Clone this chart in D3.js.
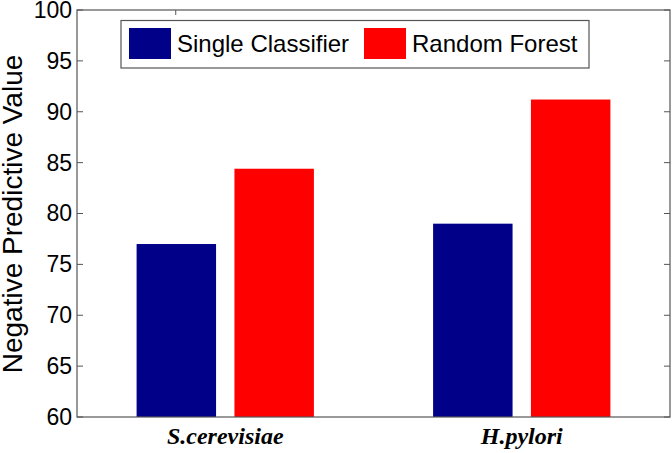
<!DOCTYPE html>
<html><head><meta charset="utf-8">
<script src="https://cdn.jsdelivr.net/npm/d3@7"></script>
<style>body{margin:0;background:#fff;} svg{display:block;}</style>
</head><body>
<script>
const categories = ["S.cerevisiae", "H.pylori"];
const seriesNames = ["Single Classifier", "Random Forest"];
const singleClassifier = [77.0, 79.0];
const randomForest = [84.4, 91.2];
const yTicks = [60, 65, 70, 75, 80, 85, 90, 95, 100];
const colors = ["#000088", "#ff0000"];

const W = 672, H = 453;
const m = {left: 77, right: 2, top: 10, bottom: 36};
const svg = d3.select("body").append("svg").attr("width", W).attr("height", H);
const iw = W - m.left - m.right, ih = H - m.top - m.bottom;
const g = svg.append("g").attr("transform", `translate(${m.left},${m.top})`);

const x = d3.scaleLinear().domain([0.5, 2.5]).range([0, iw]);
const y = d3.scaleLinear().domain([60, 100]).range([ih, 0]);
const barW = 0.268, offset = 0.165;

const series = [singleClassifier, randomForest];
series.forEach((vals, si) => {
  g.selectAll(null).data(vals).enter().append("rect")
    .attr("x", (d, i) => x(i + 1 + (si === 0 ? -offset : offset) - barW / 2))
    .attr("width", x(barW) - x(0))
    .attr("y", d => y(d))
    .attr("height", d => y(60) - y(d))
    .attr("fill", colors[si]);
});

const axisColor = "#555";
// frame
g.append("rect").attr("x", 0).attr("y", 0).attr("width", iw).attr("height", ih)
  .attr("fill", "none").attr("stroke", axisColor).attr("stroke-width", 1.2);

// y axis
const yAxis = d3.axisLeft(y).tickValues(yTicks).tickSize(0).tickPadding(5);
const ya = g.append("g").call(yAxis);
ya.select(".domain").remove();
ya.selectAll("text").attr("font-family", "Liberation Sans, Arial, sans-serif").attr("font-size", 23).attr("fill", "#000");
// inner tick marks left and right
g.selectAll(null).data(yTicks).enter().append("line")
  .attr("x1", 0).attr("x2", 6).attr("y1", d => y(d)).attr("y2", d => y(d))
  .attr("stroke", axisColor);
g.selectAll(null).data(yTicks).enter().append("line")
  .attr("x1", iw).attr("x2", iw - 6).attr("y1", d => y(d)).attr("y2", d => y(d))
  .attr("stroke", axisColor);
// stray top tick
g.append("line").attr("x1", x(0.833)).attr("x2", x(0.833)).attr("y1", 0).attr("y2", 5).attr("stroke", axisColor);

// x labels
g.selectAll(null).data(categories).enter().append("text")
  .attr("x", (d, i) => x(i + 1)).attr("y", ih + 27)
  .attr("text-anchor", "middle")
  .attr("font-family", "Liberation Serif, Times New Roman, serif")
  .attr("font-style", "italic").attr("font-weight", "bold").attr("font-size", 24)
  .attr("fill", "#000").text(d => d);

// y title
svg.append("text").attr("transform", `translate(${22},${214}) rotate(-90)`)
  .attr("text-anchor", "middle")
  .attr("font-family", "Liberation Sans, Arial, sans-serif").attr("font-size", 28)
  .attr("fill", "#000").text("Negative Predictive Value");

// legend
const lg = svg.append("g");
lg.append("rect").attr("x", 121).attr("y", 20.5).attr("width", 468).attr("height", 47.5)
  .attr("fill", "#fff").attr("stroke", axisColor).attr("stroke-width", 1.2);
const legX = [129, 364];
seriesNames.forEach((n, i) => {
  lg.append("rect").attr("x", legX[i]).attr("y", 28).attr("width", 42).attr("height", 31).attr("fill", colors[i]);
  lg.append("text").attr("x", legX[i] + 48).attr("y", 51.5)
    .attr("font-family", "Liberation Sans, Arial, sans-serif").attr("font-size", 24)
    .attr("fill", "#000").text(n);
});
</script>
</body></html>
